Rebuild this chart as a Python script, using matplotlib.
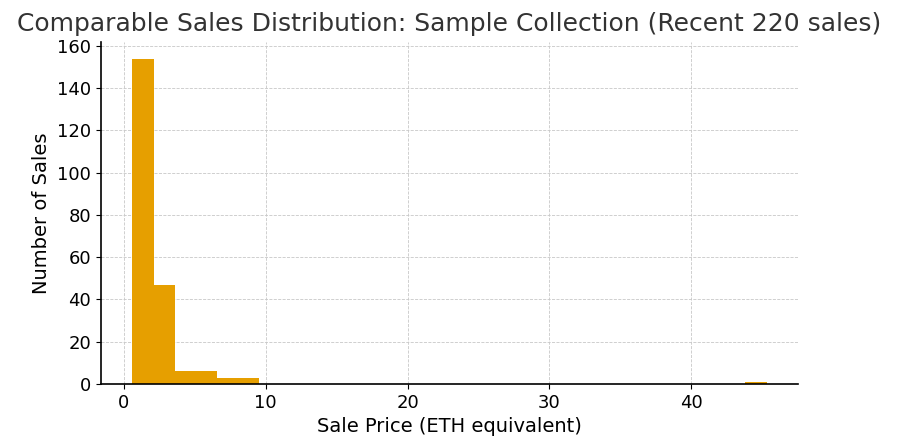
import matplotlib
matplotlib.use("Agg")
import matplotlib.pyplot as plt
import numpy as np

# Histogram data (30 equal-width bins)
bin_start = 0.61
bin_end = 45.3
n_bins = 30
counts = [154, 47, 6, 6, 3, 3] + [0] * 23 + [1]

title = "Comparable Sales Distribution: Sample Collection (Recent 220 sales)"
xlabel = "Sale Price (ETH equivalent)"
ylabel = "Number of Sales"
bar_color = "#E69F00"

edges = np.linspace(bin_start, bin_end, n_bins + 1)
centers = (edges[:-1] + edges[1:]) / 2

fig, ax = plt.subplots(figsize=(8.99, 4.45), dpi=100)
ax.hist(centers, bins=edges, weights=counts, color=bar_color)

ax.set_title(title, fontsize=18, color="#333333", pad=8)
ax.set_xlabel(xlabel, fontsize=14, labelpad=4)
ax.set_ylabel(ylabel, fontsize=14)
ax.tick_params(labelsize=13)
ax.grid(True, linestyle="--", linewidth=0.6, color="#c8c8c8")
ax.set_axisbelow(True)
for s in ["top", "right"]:
    ax.spines[s].set_visible(False)
for s in ["left", "bottom"]:
    ax.spines[s].set_linewidth(1.2)

fig.subplots_adjust(left=0.112, right=0.888, top=0.905, bottom=0.137)
fig.savefig("out.png", dpi=100)
